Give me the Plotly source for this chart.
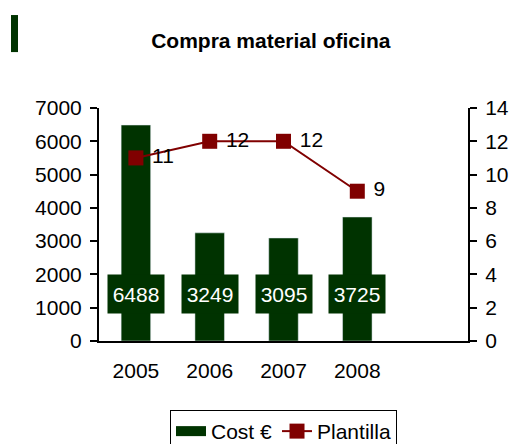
import plotly.graph_objects as go

# datos
YEARS = ["2005", "2006", "2007", "2008"]
COST = [6488, 3249, 3095, 3725]
PLANTILLA = [11, 12, 12, 9]

GREEN = "#003300"
RED = "#800000"
FONT = "Liberation Sans, Arial, sans-serif"
LABEL_Y = 1400  # altura de las etiquetas de las barras
N_SLOTS = len(YEARS) + 1  # hay un hueco vacío a la derecha

xpos = list(range(len(YEARS)))

fig = go.Figure()
fig.add_trace(go.Bar(
    x=xpos, y=COST, name="Cost €", marker_color=GREEN, width=0.4,
    hoverinfo="y", showlegend=False,
))
# entrada de leyenda con forma de rectángulo ancho (como en Excel)
fig.add_trace(go.Scatter(
    x=[None], y=[None], name="Cost €", mode="lines",
    line=dict(color=GREEN, width=15),
))
fig.add_trace(go.Scatter(
    x=xpos, y=PLANTILLA, name="Plantilla", yaxis="y2",
    mode="lines+markers+text",
    line=dict(color=RED, width=2),
    marker=dict(symbol="square", size=15, color=RED),
    text=["\u00a0" + str(v) for v in PLANTILLA], textposition="middle right",
    textfont=dict(size=21, color="black"),
))

# etiquetas de valor dentro de las barras
for i, v in enumerate(COST):
    fig.add_annotation(x=xpos[i], y=LABEL_Y, xref="x", yref="y", text=str(v),
                       showarrow=False, bgcolor=GREEN, width=54, height=36,
                       font=dict(size=21, color="white", family=FONT))

# pequeño rectángulo verde arriba a la izquierda
fig.add_shape(type="rect", xref="paper", yref="paper",
              x0=-0.2385, x1=-0.2195, y0=1.240, y1=1.399,
              fillcolor=GREEN, line=dict(width=0))

xr = [-0.5, N_SLOTS - 0.5]
common_x = dict(range=xr, fixedrange=True, showgrid=False, zeroline=False,
                automargin=False)
tick = dict(ticklen=7, tickwidth=2, tickcolor="black")
fig.update_layout(
    width=509, height=444,
    margin=dict(l=99, r=41, t=108, b=103, autoexpand=False),
    paper_bgcolor="white", plot_bgcolor="white",
    font=dict(family=FONT, size=21, color="black"),
    title=dict(text="<b>Compra material oficina</b>", x=0.532, xanchor="center",
               y=0.909, yanchor="middle", font=dict(size=21)),
    showlegend=True,
    legend=dict(orientation="h", x=0.5, xanchor="center", y=-0.296, yanchor="top",
                bordercolor="black", borderwidth=1, bgcolor="white",
                font=dict(size=21)),
    xaxis=dict(**common_x, tickmode="array", tickvals=xpos, ticktext=YEARS,
               ticks="", showline=True, linecolor="black", linewidth=2,
               ticklabelstandoff=10),
    xaxis3=dict(**common_x, overlaying="x", anchor="y", side="bottom",
                tickmode="linear", tick0=-0.5, dtick=1, ticks="outside",
                showticklabels=False, **tick),
    xaxis4=dict(**common_x, overlaying="x", anchor="y", side="bottom",
                tickmode="linear", tick0=-0.5, dtick=1, ticks="inside",
                showticklabels=False, **tick),
    yaxis=dict(range=[0, 7000], dtick=1000, showgrid=False, zeroline=False,
               showline=True, linecolor="black", linewidth=2, automargin=False,
               ticks="outside", ticklabelstandoff=4, **tick),
    yaxis3=dict(range=[0, 7000], dtick=1000, overlaying="y", side="left",
                showgrid=False, zeroline=False, ticks="inside",
                showticklabels=False, automargin=False, **tick),
    yaxis2=dict(range=[0, 14], dtick=2, overlaying="y", side="right",
                showgrid=False, zeroline=False, showline=True, automargin=False,
                linecolor="black", linewidth=2, ticks="outside",
                ticklabelstandoff=4, **tick),
    yaxis4=dict(range=[0, 14], dtick=2, overlaying="y", side="right",
                showgrid=False, zeroline=False, ticks="inside",
                showticklabels=False, automargin=False, **tick),
)

fig.write_html("out.html", config={"displayModeBar": False},
               post_script="document.body.style.margin='0';")
